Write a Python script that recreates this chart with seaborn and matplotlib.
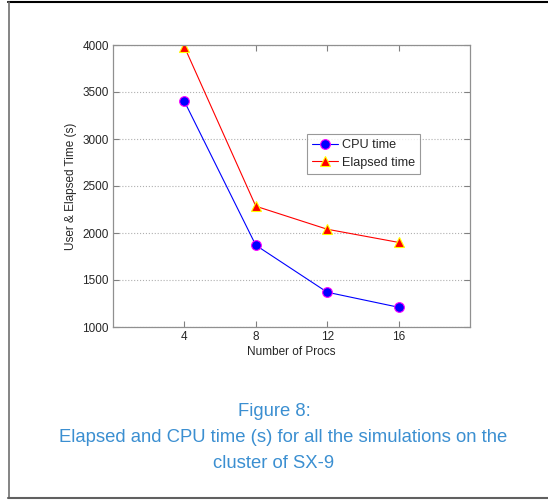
import matplotlib
matplotlib.use("Agg")
import matplotlib.pyplot as plt
import seaborn as sns
import pandas as pd
from matplotlib.lines import Line2D

procs = [4, 8, 12, 16]
cpu_time = [3400, 1870, 1370, 1210]
elapsed_time = [3980, 2285, 2040, 1900]

sns.set_style("white")
plt.rcParams['font.family'] = ['Liberation Sans', 'DejaVu Sans']

df = pd.DataFrame({'procs': procs, 'cpu': cpu_time, 'elapsed': elapsed_time})

fig = plt.figure(figsize=(5.48, 5.04), dpi=100)
ax = fig.add_axes([113 / 548, 1 - 327 / 504, 357 / 548, 282 / 504])

cpu_style = dict(color='blue', lw=0.8, marker='o', markersize=7,
                 markerfacecolor='blue', markeredgecolor='magenta',
                 markeredgewidth=0.8)
ela_style = dict(color='red', lw=0.8, marker='^', markersize=7,
                 markerfacecolor='red', markeredgecolor='yellow',
                 markeredgewidth=0.8)
sns.lineplot(data=df, x='procs', y='cpu', ax=ax, legend=False, **cpu_style)
sns.lineplot(data=df, x='procs', y='elapsed', ax=ax, legend=False, **ela_style)

ax.set_xlim(0, 20)
ax.set_ylim(1000, 4000)
ax.set_xticks(procs)
ax.set_yticks(range(1000, 4001, 500))
ax.yaxis.grid(True, linestyle=':', color='#b0b0b0', lw=0.8)
ax.tick_params(direction='in', length=4, labelsize=8.5, color='#808080',
               top=True, right=True, bottom=True, left=True, pad=3)
for s in ax.spines.values():
    s.set_color('#909090')
    s.set_linewidth(0.9)
ax.set_xlabel('Number of Procs', fontsize=8.5, labelpad=2)
ax.set_ylabel('User & Elapsed Time (s)', fontsize=8.5, labelpad=4)

handles = [Line2D([], [], **cpu_style), Line2D([], [], **ela_style)]
leg = ax.legend(handles, ['CPU time', 'Elapsed time'], loc='upper left',
                bbox_to_anchor=(0.543, 0.683), fontsize=9.1,
                frameon=True, fancybox=False, edgecolor='#808080',
                handlelength=2.1, borderpad=0.4, labelspacing=0.4,
                handletextpad=0.25, borderaxespad=0)
leg.get_frame().set_linewidth(0.8)

cap_color = '#3b8fd1'
fig.text(274 / 548, 1 - 411 / 504, 'Figure 8:', ha='center', va='center',
         fontsize=13.3, color=cap_color)
fig.text(283 / 548, 1 - 437 / 504,
         'Elapsed and CPU time (s) for all the simulations on the',
         ha='center', va='center', fontsize=13.3, color=cap_color)
fig.text(274 / 548, 1 - 463 / 504, 'cluster of SX-9', ha='center',
         va='center', fontsize=13.3, color=cap_color)

# page frame
fig.add_artist(Line2D([8 / 548, 1], [1 - 1.5 / 504, 1 - 1.5 / 504],
                      transform=fig.transFigure, color='black', lw=1.5))
fig.add_artist(Line2D([8.5 / 548, 8.5 / 548], [1 - 1.5 / 504, 1 - 498 / 504],
                      transform=fig.transFigure, color='#707070', lw=1.2))
fig.add_artist(Line2D([8 / 548, 1], [1 - 498 / 504, 1 - 498 / 504],
                      transform=fig.transFigure, color='#606060', lw=1.5))

fig.savefig('out.png', dpi=100)
